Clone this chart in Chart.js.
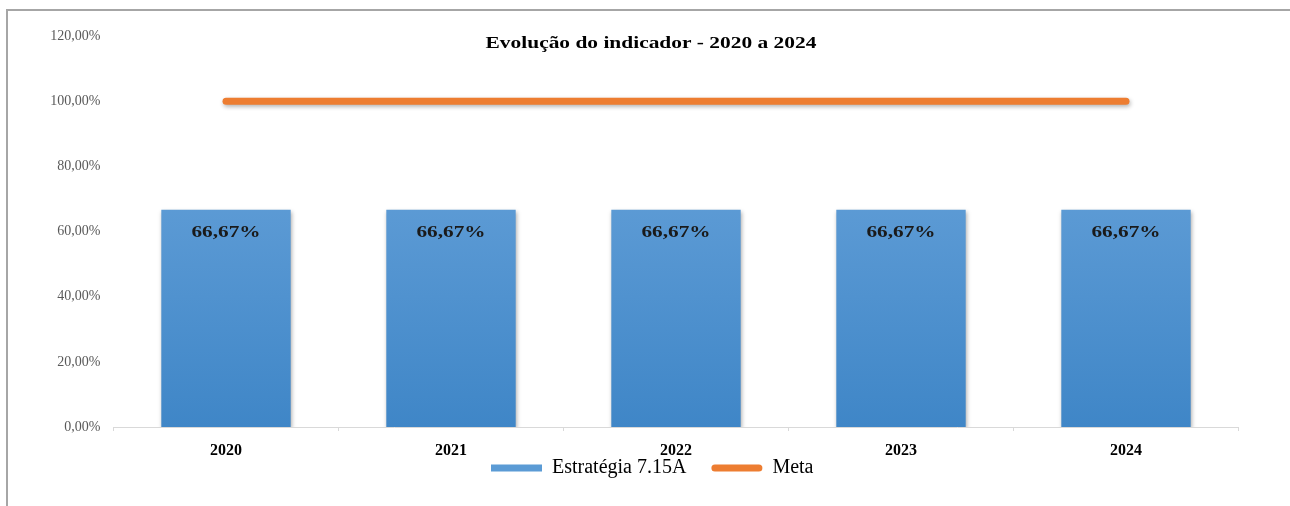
<!DOCTYPE html>
<html>
<head>
<meta charset="utf-8">
<script src="https://cdn.jsdelivr.net/npm/chart.js@4/dist/chart.umd.min.js"></script>
<style>
  html, body { margin: 0; padding: 0; background: #fff; }
  #wrap { position: relative; width: 1290px; height: 506px; }
  #frame {
    position: absolute; left: 6px; top: 9px; right: 0; bottom: 0;
    border-left: 2px solid #a6a6a6; border-top: 2px solid #a6a6a6;
    pointer-events: none;
  }
</style>
</head>
<body>
<div id="wrap">
  <canvas id="chart" width="1290" height="506"></canvas>
  <div id="frame"></div>
</div>
<script>
var years = ['2020', '2021', '2022', '2023', '2024'];
var estrategia = [66.67, 66.67, 66.67, 66.67, 66.67];
var meta = [100, 100, 100, 100, 100];
var titleText = 'Evolução do indicador - 2020 a 2024';

var serif = '"Liberation Serif", "Times New Roman", serif';

function pct(v) {
  return v.toFixed(2).replace('.', ',') + '%';
}

function barFill(ctx) {
  var area = ctx.chart.chartArea;
  if (!area) return '#5b9bd5';
  var g = ctx.chart.ctx.createLinearGradient(0, area.top, 0, area.bottom);
  g.addColorStop(0, '#72aadf');
  g.addColorStop(1, '#3f86c7');
  return g;
}

// draws text a bit wider than the font, like the stretched original
function wideText(c, txt, x, y, sx) {
  c.save();
  c.translate(x, y);
  c.scale(sx, 1);
  c.fillText(txt, 0, 0);
  c.restore();
}

var shadowPlugin = {
  id: 'shadow',
  beforeDatasetDraw: function (chart) {
    var c = chart.ctx;
    c.save();
    c.shadowColor = 'rgba(0,0,0,0.3)';
    c.shadowBlur = 4;
    c.shadowOffsetX = 1;
    c.shadowOffsetY = 2;
  },
  afterDatasetDraw: function (chart) {
    chart.ctx.restore();
  }
};

// move the legend under the plot like in the original
var legendPlace = {
  id: 'legendPlace',
  afterLayout: function (chart) {
    var lg = chart.legend;
    if (!lg) return;
    var h = lg.bottom - lg.top;
    lg.top = 433;
    lg.bottom = lg.top + h;
    lg.left = 66;
  }
};

var labelsPlugin = {
  id: 'barLabels',
  afterDatasetsDraw: function (chart) {
    var c = chart.ctx;
    var meta0 = chart.getDatasetMeta(0);
    c.save();
    c.font = 'bold 17px ' + serif;
    c.fillStyle = '#1a1a1a';
    c.textAlign = 'center';
    c.textBaseline = 'middle';
    meta0.data.forEach(function (bar, i) {
      wideText(c, pct(estrategia[i]), bar.x, bar.y + 23, 1.25);
    });
    c.font = 'bold 17px ' + serif;
    c.fillStyle = '#000';
    wideText(c, titleText, 651, 44, 1.26);
    c.restore();
  }
};

new Chart(document.getElementById('chart').getContext('2d'), {
  data: {
    labels: years,
    datasets: [
      {
        type: 'bar',
        label: 'Estratégia 7.15A',
        data: estrategia,
        backgroundColor: barFill,
        barPercentage: 0.575,
        categoryPercentage: 1,
        order: 2
      },
      {
        type: 'line',
        label: 'Meta',
        data: meta,
        borderColor: '#ed7d31',
        backgroundColor: '#ed7d31',
        borderWidth: 7,
        borderCapStyle: 'round',
        pointRadius: 0,
        order: 1
      }
    ]
  },
  options: {
    responsive: false,
    animation: false,
    layout: { padding: { left: 0, right: 51.5, top: 36, bottom: -20 } },
    plugins: {
      tooltip: { enabled: false },
      title: { display: false },
      legend: {
        position: 'bottom',
        labels: {
          boxWidth: 51,
          boxHeight: 7,
          padding: 25,
          color: '#595959',
          useBorderRadius: true,
          font: { family: serif, size: 20 },
          generateLabels: function () {
            return [
              { text: 'Estratégia 7.15A', fillStyle: '#5b9bd5', strokeStyle: '#5b9bd5', lineWidth: 0, borderRadius: 0, datasetIndex: 0 },
              { text: 'Meta', fillStyle: '#ed7d31', strokeStyle: '#ed7d31', lineWidth: 0, borderRadius: 3.5, datasetIndex: 1 }
            ];
          }
        }
      }
    },
    scales: {
      x: {
        offset: true,
        grid: { drawOnChartArea: false, drawTicks: true, tickLength: 4, color: '#d9d9d9', offset: true },
        border: { color: '#d9d9d9' },
        ticks: { color: '#000', padding: 12, font: { family: serif, size: 16, weight: 'bold', lineHeight: 1 } }
      },
      y: {
        min: 0,
        max: 120,
        grid: { display: false, drawTicks: false },
        border: { display: false },
        ticks: {
          stepSize: 20,
          padding: 13,
          color: '#595959',
          font: { family: serif, size: 14 },
          callback: function (v) { return pct(v); }
        },
        afterFit: function (s) { s.width = 113.5; }
      }
    }
  },
  plugins: [shadowPlugin, legendPlace, labelsPlugin]
});
</script>
</body>
</html>
